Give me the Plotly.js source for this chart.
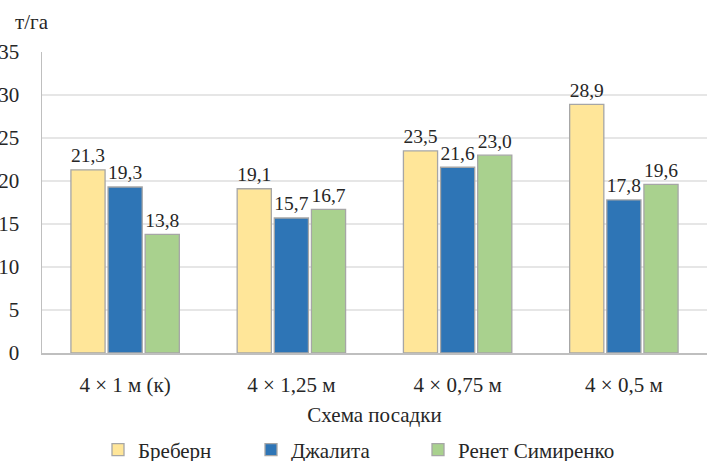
<!DOCTYPE html>
<html>
<head>
<meta charset="utf-8">
<script src="https://cdn.plot.ly/plotly-3.0.1.min.js"></script>
<style>html,body{margin:0;padding:0;background:#fff;}#chart{width:707px;height:461px;}</style>
</head>
<body>
<div id="chart"></div>
<script>
const categories = ["4 × 1 м (к)", "4 × 1,25 м", "4 × 0,75 м", "4 × 0,5 м"];
const seriesNames = ["Бреберн", "Джалита", "Ренет Симиренко"];
const breburn = [21.3, 19.1, 23.5, 28.9];
const dzhalita = [19.3, 15.7, 21.6, 17.8];
const renet = [13.8, 16.7, 23.0, 19.6];
const yTicks = [0, 5, 10, 15, 20, 25, 30, 35];

const colors = ["#FFE699", "#2E75B6", "#A9D18E"];
const fontFam = "Liberation Serif, Times New Roman, serif";
const fmt = v => v.toFixed(1).replace('.', ',');
const F = 21;
const legendIds = ['legend', 'legend2', 'legend3'];
const legendX = [98, 251, 418];

const traces = [breburn, dzhalita, renet].map((vals, i) => ({
  type: 'bar',
  name: seriesNames[i],
  legend: legendIds[i],
  x: categories,
  y: vals,
  text: vals.map(fmt),
  textposition: 'outside',
  cliponaxis: false,
  textfont: {family: fontFam, size: F, color: '#262626'},
  marker: {color: colors[i], line: {color: '#A6A6A6', width: 1.3}},
  hoverinfo: 'none'
}));

const layout = {
  width: 707, height: 461,
  margin: {l: 42, r: 0, t: 52, b: 108},
  paper_bgcolor: '#fff', plot_bgcolor: '#fff',
  font: {family: fontFam, size: F, color: '#262626'},
  barmode: 'group',
  bargap: 0.33,
  bargroupgap: 0.08,
  showlegend: true,
  xaxis: {
    type: 'category',
    showline: true, linecolor: '#BFBFBF', linewidth: 1.5,
    ticks: '', showgrid: false,
    ticklabelstandoff: 12,
    tickfont: {family: fontFam, size: F, color: '#262626'},
    title: {text: 'Схема посадки', font: {family: fontFam, size: F, color: '#262626'}, standoff: 11},
    automargin: false
  },
  yaxis: {
    range: [0, 35],
    tickvals: yTicks,
    ticktext: yTicks.map(String),
    showline: true, linecolor: '#BFBFBF', linewidth: 1.5,
    showgrid: true, gridcolor: '#E6E6E6', gridwidth: 1.3,
    zeroline: false,
    ticks: '',
    ticklabelstandoff: 17,
    tickfont: {family: fontFam, size: F, color: '#262626'},
    automargin: false
  },
  annotations: [{
    text: 'т/га', xref: 'paper', yref: 'paper', x: 0.0, y: 1, xanchor: 'center', yanchor: 'bottom',
    xshift: -10, yshift: 16,
    showarrow: false, font: {family: fontFam, size: F, color: '#262626'}
  }]
};
legendIds.forEach((id, i) => {
  layout[id] = {orientation: 'h', x: legendX[i] / 707, xref: 'container', xanchor: 'left',
    y: 0.024, yref: 'container', yanchor: 'middle',
    font: {family: fontFam, size: F, color: '#262626'}, bgcolor: 'rgba(0,0,0,0)'};
});

Plotly.newPlot('chart', traces, layout, {displayModeBar: false, staticPlot: true});
</script>
</body>
</html>
